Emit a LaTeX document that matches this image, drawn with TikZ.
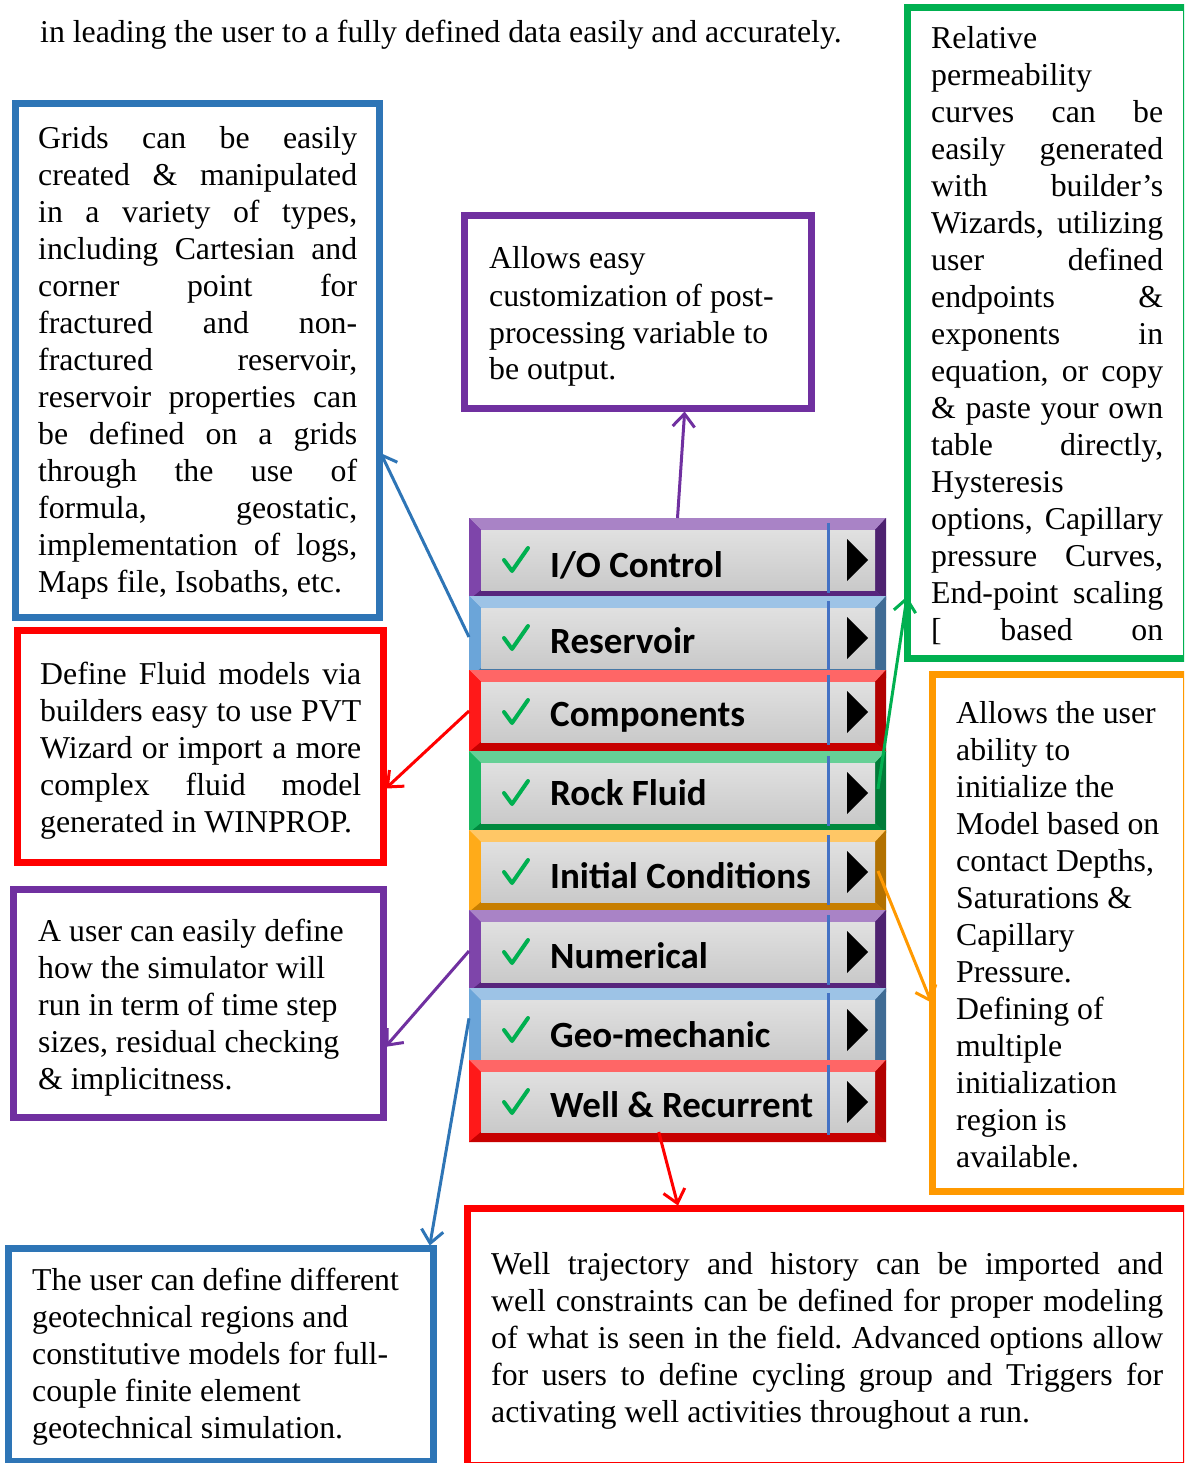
\documentclass[tikz,border=0pt]{standalone}
\usepackage{fontspec}
\setmainfont{Liberation Serif}
\newfontfamily\btnfont{Carlito}
\usetikzlibrary{arrows.meta,calc}

\definecolor{cBlue}{HTML}{2E75B6}
\definecolor{cRed}{HTML}{FF0000}
\definecolor{cPurple}{HTML}{7030A0}
\definecolor{cGreen}{HTML}{00B050}
\definecolor{cOrange}{HTML}{FF9900}
\definecolor{fBlue}{HTML}{5B9BD5}
\definecolor{fOrange}{HTML}{FFA200}
\definecolor{vline}{HTML}{4472C4}

\newcommand\JL[1]{\hbox to\hsize{\spaceskip=.25em plus 1fill\relax#1}}
\newcommand\RL[1]{\hbox{#1}}

\tikzset{
 desc/.style={draw=#1, line width=7pt, inner sep=0pt, outer sep=0pt, anchor=north west},
 txt/.style={anchor=base west, inner sep=0pt, font=\fontsize{31.8}{37}\selectfont\frenchspacing},
 conn/.style={draw=#1, line width=3pt, -{Straight Barb[length=13pt,width=22pt]}, shorten >=3pt},
 btnlabel/.style={anchor=base west, inner sep=0pt, font=\btnfont\bfseries\fontsize{37}{44}\selectfont},
 btnframe/.style={minimum width=417pt, minimum height=82pt, inner sep=0pt, outer sep=0pt, anchor=north west},
}

% name, frame colour, top, label, baseline offset
\newcommand\btn[5]{%
 \node[btnframe] (#1) at (469,#3) {};
 \fill[#2] (469,#3) rectangle (886,#3+82);
 \fill[#2!60!white] (469,#3) -- (886,#3) -- (875,#3+12) -- (481,#3+12) -- cycle;
 \fill[#2!90!white] (469,#3) -- (481,#3+12) -- (481,#3+72) -- (469,#3+82) -- cycle;
 \fill[#2!70!black] (886,#3) -- (875,#3+12) -- (875,#3+72) -- (886,#3+82) -- cycle;
 \fill[#2!78!black] (469,#3+82) -- (481,#3+72) -- (875,#3+72) -- (886,#3+82) -- cycle;
 \shade[top color=black!12, bottom color=black!21] (481,#3+12) rectangle (875,#3+72);
 \draw[vline, line width=3pt] (828,#3+5) -- (828,#3+75);
 \fill[black] (847,#3+21) -- (868,#3+42) -- (847,#3+63) -- cycle;
 \draw[cGreen, line width=4pt, line cap=round, line join=round] (504,#3+42) -- (512,#3+53) -- (528,#3+30);
 \node[btnlabel] (#1lab) at (550,#3+#5) {#4};
}

\begin{document}
\begin{tikzpicture}[x=1pt, y=-1pt]
\useasboundingbox (0,0) rectangle (1184,1463);
\fill[white] (0,0) rectangle (1184,1463);
\clip (0,0) rectangle (1184,1463);

\node[txt] (intro) at (40,43) {in leading the user to a fully defined data easily and accurately.};

% description boxes
\node[desc=cBlue, minimum width=364, minimum height=514] (blueT) at (15.5,103.5) {};
\node[desc=cRed, minimum width=366, minimum height=232] (redL) at (17.5,630.5) {};
\node[desc=cPurple, minimum width=370, minimum height=228] (purL) at (13.5,889.5) {};
\node[desc=cBlue, minimum width=425, minimum height=213] (blueB) at (8.5,1248.5) {};
\node[desc=cPurple, minimum width=347, minimum height=193] (purT) at (464.5,215.5) {};
\node[desc=cGreen, minimum width=278.5, minimum height=651] (green) at (907.5,7.5) {};
\node[desc=cOrange, minimum width=253.5, minimum height=517] (orange) at (932.5,674.5) {};
\node[desc=cRed, minimum width=718.5, minimum height=256.5] (redB) at (467.5,1208.5) {};

% texts
\node[txt] (tBlueT) at (38,149) {\vtop{\hsize=319pt\baselineskip=37pt
 \JL{Grids can be easily}\JL{created \& manipulated}\JL{in a variety of types,}\JL{including Cartesian and}
 \JL{corner point for}\JL{fractured and non-}\JL{fractured reservoir,}\JL{reservoir properties can}
 \JL{be defined on a grids}\JL{through the use of}\JL{formula, geostatic,}\JL{implementation of logs,}
 \RL{Maps file, Isobaths, etc.}}};

\node[txt] (tRedL) at (40,684) {\vtop{\hsize=321pt\baselineskip=37pt
 \JL{Define Fluid models via}\JL{builders easy to use PVT}\JL{Wizard or import a more}\JL{complex fluid model}
 \RL{generated in WINPROP.}}};

\node[txt] (tPurL) at (38,941) {\vtop{\hsize=320pt\baselineskip=37pt
 \RL{A user can easily define}\RL{how the simulator will}\RL{run in term of time step}\RL{sizes, residual checking}
 \RL{\& implicitness.}}};

\node[txt] (tPurT) at (489,269) {\vtop{\hsize=300pt\baselineskip=37pt
 \RL{Allows easy}\RL{customization of post-}\RL{processing variable to}\RL{be output.}}};

\node[txt] (tGreen) at (931,49) {\vtop{\hsize=232pt\baselineskip=37pt
 \RL{Relative}\RL{permeability}\JL{curves can be}\JL{easily generated}\JL{with builder’s}
 \JL{Wizards, utilizing}\JL{user defined}\JL{endpoints \&}\JL{exponents in}\JL{equation, or copy}
 \JL{\& paste your own}\JL{table directly,}\RL{Hysteresis}\JL{options, Capillary}\JL{pressure Curves,}
 \JL{End-point scaling}\JL{[ based on}}};

\node[txt] (tOrange) at (956,723) {\vtop{\hsize=210pt\baselineskip=37pt
 \RL{Allows the user}\RL{ability to}\RL{initialize the}\RL{Model based on}\RL{contact Depths,}
 \RL{Saturations \&}\RL{Capillary}\RL{Pressure.}\RL{Defining of}\RL{multiple}\RL{initialization}
 \RL{region is}\RL{available.}}};

\node[txt] (tBlueB) at (32,1290) {\vtop{\hsize=380pt\baselineskip=37pt
 \RL{The user can define different}\RL{geotechnical regions and}\RL{constitutive models for full-}
 \RL{couple finite element}\RL{geotechnical simulation.}}};

\node[txt] (tRedB) at (491,1274) {\vtop{\hsize=672pt\baselineskip=37pt
 \JL{Well trajectory and history can be imported and}
 \JL{well constraints can be defined for proper modeling}
 \JL{of what is seen in the field. Advanced options allow}
 \JL{for users to define cycling group and Triggers for}
 \RL{activating well activities throughout a run.}}};

% button strip
\btn{ioc}{cPurple}{518}{I/O Control}{59}
\btn{res}{fBlue}{596}{Reservoir}{57}
\btn{comp}{cRed}{670}{Components}{56}
\btn{rock}{cGreen}{751}{Rock Fluid}{54}
\btn{init}{fOrange}{830}{Initial Conditions}{58}
\btn{num}{cPurple}{910}{Numerical}{58}
\btn{geo}{fBlue}{988}{Geo-mechanic}{59}
\btn{well}{cRed}{1060}{Well \& Recurrent}{57}

% connectors
\draw[conn=cPurple] (ioc.north) -- ($(purT.south west)!0.635!(purT.south east)$);
\draw[conn=cBlue] (res.west) -- ($(blueT.north east)!0.675!(blueT.south east)$);
\draw[conn=cRed] (comp.west) -- ($(redL.north east)!0.69!(redL.south east)$);
\draw[conn=cGreen] ($(rock.east)+(-8,-3)$) -- ($(green.north west)!0.9!(green.south west)$);
\draw[conn=cOrange] ($(init.east)+(-8,0)$) -- ($(orange.north west)!0.64!(orange.south west)$);
\draw[conn=cPurple] (num.west) -- ($(purL.north east)!0.70!(purL.south east)$);
\draw[conn=cBlue] ($(geo.north west)!0.37!(geo.south west)$) -- ($(blueB.north west)!0.99!(blueB.north east)$);
\draw[conn=cRed] ($(well.south west)!0.455!(well.south east)+(0,-10)$) -- ($(redB.north west)!0.294!(redB.north east)$);
\end{tikzpicture}
\end{document}
